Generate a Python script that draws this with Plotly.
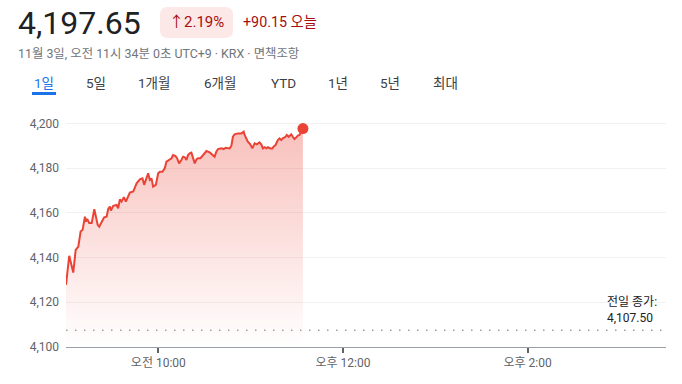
import plotly.graph_objects as go
import pandas as pd

# ---- data ----
minutes_after_open = [0, 2.1, 4.7, 6.3, 8.0, 9.5, 10.8, 12.3, 13.0, 13.8, 15.1, 16.7, 18.4, 19.5, 20.6,
                      21.6, 23.2, 24.8, 26.4, 27.4, 28.5, 29.2, 30.7, 32.9, 33.9, 35.0, 36.1, 37.6, 38.9,
                      40.4, 41.5, 43.7, 45.9, 48.0, 49.7, 50.8, 52.3, 53.4, 54.5, 55.6, 56.6, 58.4, 59.9,
                      61.0, 62.7, 64.2, 65.3, 67.0, 68.6, 69.6, 71.2, 72.2, 73.5, 75.0, 76.1, 77.2, 78.3,
                      79.3, 80.4, 81.5, 82.6, 83.7, 84.8, 85.8, 87.4, 89.1, 91.3, 93.4, 95.2, 96.6, 97.7,
                      98.8, 101.0, 102.5, 103.8, 105.3, 106.4, 107.5, 108.5, 109.6, 111.8, 114.0, 115.5,
                      116.1, 117.2, 118.2, 119.8, 121.1, 122.6, 124.1, 125.8, 126.9, 128.0, 129.1, 130.2,
                      131.2, 132.8, 134.1, 134.9, 136.2, 137.7, 138.8, 139.9, 140.9, 142.7, 143.5, 144.8,
                      146.4, 147.4, 148.5, 149.6, 150.7, 151.8, 154.0]
prices = [4127.8, 4140.8, 4133.3, 4143.4, 4144.9, 4151.6, 4152.4, 4158.3, 4156.1, 4157.3, 4155.4, 4155.4,
          4161.6, 4158.3, 4154.6, 4153.8, 4156.1, 4158.0, 4158.3, 4161.6, 4162.8, 4161.0, 4163.1, 4163.5,
          4162.0, 4166.0, 4165.0, 4167.0, 4165.0, 4167.2, 4169.0, 4169.5, 4173.2, 4175.0, 4175.4, 4172.5,
          4175.4, 4177.7, 4174.7, 4175.4, 4171.7, 4172.5, 4177.7, 4178.4, 4178.4, 4179.9, 4182.9, 4183.9,
          4184.4, 4185.8, 4185.4, 4184.4, 4182.1, 4183.6, 4185.1, 4184.8, 4183.6, 4185.8, 4186.6, 4186.9,
          4184.4, 4182.1, 4183.9, 4184.4, 4184.4, 4185.8, 4187.6, 4187.0, 4185.8, 4185.1, 4187.3, 4188.5,
          4188.8, 4188.5, 4189.1, 4188.8, 4188.8, 4190.0, 4194.0, 4195.1, 4195.5, 4195.5, 4196.3, 4194.8,
          4193.3, 4191.8, 4190.6, 4188.8, 4191.1, 4190.6, 4191.5, 4190.6, 4188.8, 4189.3, 4188.8, 4189.3,
          4188.8, 4188.8, 4189.6, 4190.3, 4192.5, 4193.3, 4192.5, 4193.3, 4194.0, 4194.8, 4194.0, 4195.1,
          4194.0, 4193.0, 4193.6, 4194.5, 4194.8, 4197.65]
prev_close = 4107.50
last_price = 4197.65
change_pct = "2.19%"
change_abs = "+90.15"
session_date = "2025-11-03"
x_tick_times = ["10:00", "12:00", "14:00"]
x_tick_labels = ["오전 10:00", "오후 12:00", "오후 2:00"]
y_ticks = [4100, 4120, 4140, 4160, 4180, 4200]
tabs = ["1일", "5일", "1개월", "6개월", "YTD", "1년", "5년", "최대"]

# ---- build ----
open_ts = pd.Timestamp(f"{session_date} 09:00")
times = open_ts + pd.to_timedelta(minutes_after_open, unit="min")

W, H = 682, 384
ML, MR, MT, MB = 66, 16, 105, 37
PW, PH = W - ML - MR, H - MT - MB


def px(x):
    return (x - ML) / PW


def py(y):
    return (H - MB - y) / PH


def rounded_rect_path(x0, y0, x1, y1, r):
    pts = [
        f"M {px(x0 + r)} {py(y0)}",
        f"L {px(x1 - r)} {py(y0)}",
        f"Q {px(x1)} {py(y0)} {px(x1)} {py(y0 + r)}",
        f"L {px(x1)} {py(y1 - r)}",
        f"Q {px(x1)} {py(y1)} {px(x1 - r)} {py(y1)}",
        f"L {px(x0 + r)} {py(y1)}",
        f"Q {px(x0)} {py(y1)} {px(x0)} {py(y1 - r)}",
        f"L {px(x0)} {py(y0 + r)}",
        f"Q {px(x0)} {py(y0)} {px(x0 + r)} {py(y0)}",
        "Z",
    ]
    return " ".join(pts)


RED = "#ea4335"
FONT = "Roboto, 'Noto Sans CJK KR', sans-serif"

fig = go.Figure()
fig.add_trace(go.Scatter(
    x=times, y=prices, mode="lines",
    line=dict(color=RED, width=2),
    fill="tozeroy",
    fillgradient=dict(type="vertical", start=4100, stop=4200,
                      colorscale=[[0, "rgba(234,67,53,0.0)"], [1, "rgba(234,67,53,0.34)"]]),
    hoverinfo="skip", showlegend=False,
))
fig.add_trace(go.Scatter(
    x=[times[-1]], y=[prices[-1]], mode="markers",
    marker=dict(color=RED, size=11), hoverinfo="skip", showlegend=False,
))

fig.add_shape(type="line", xref="paper", yref="y", x0=0, x1=1, y0=prev_close, y1=prev_close,
              line=dict(color="#9aa0a6", width=1.5, dash="1.5px,7.5px"), layer="above")

fig.update_layout(
    width=W, height=H,
    margin=dict(l=ML, r=MR, t=MT, b=MB),
    paper_bgcolor="white", plot_bgcolor="white",
    font=dict(family=FONT, color="#5f6368", size=12),
    xaxis=dict(
        range=[open_ts, pd.Timestamp(f"{session_date} 15:30")],
        tickvals=[pd.Timestamp(f"{session_date} {t}") for t in x_tick_times],
        ticktext=x_tick_labels,
        showgrid=False, zeroline=False,
        showline=True, linecolor="#9aa0a6", linewidth=1,
        ticks="outside", ticklen=5, tickwidth=2, tickcolor="#5f6368",
        tickfont=dict(size=12, color="#5f6368"),
        fixedrange=True,
    ),
    yaxis=dict(
        range=[4100, 4208.2],
        tickvals=y_ticks, tickformat=",d",
        showgrid=True, gridcolor="#f1f1f1", gridwidth=1,
        zeroline=False, showline=False, ticks="",
        ticklabelstandoff=6,
        tickfont=dict(size=12, color="#5f6368"),
        fixedrange=True,
    ),
)

ann = []
ann.append(dict(text=f"{last_price:,.2f}", x=px(16), y=py(23), xanchor="left", yanchor="middle",
                font=dict(size=32, color="#202124")))
fig.add_shape(type="path", xref="paper", yref="paper", path=rounded_rect_path(160, 7, 233, 38, 8),
              fillcolor="#fce8e6", line=dict(width=0), layer="above")
ann.append(dict(text=f"↑{change_pct}", x=px(196.5), y=py(22), xanchor="center", yanchor="middle",
                font=dict(size=15, color="#a50e0e")))
ann.append(dict(text=f"{change_abs} 오늘", x=px(241), y=py(22), xanchor="left", yanchor="middle",
                font=dict(size=14.3, color="#a50e0e")))
ann.append(dict(text="11월 3일, 오전 11시 34분 0초 UTC+9 · KRX · 면책조항", x=px(16), y=py(53),
                xanchor="left", yanchor="middle", font=dict(size=12.4, color="#70757a")))
tab_centers = [44, 96, 153.5, 219.5, 283, 337.5, 390, 445.5]
for i, (t, c) in enumerate(zip(tabs, tab_centers)):
    ann.append(dict(text=t, x=px(c), y=py(83), xanchor="center", yanchor="middle",
                    font=dict(size=13.5, color="#1a73e8" if i == 0 else "#3c4043")))
fig.add_shape(type="rect", xref="paper", yref="paper", x0=px(32), x1=px(56), y0=py(95), y1=py(92),
              fillcolor="#1a73e8", line=dict(width=0), layer="above")
ann.append(dict(text=f"전일 종가:<br>{prev_close:,.2f}", x=px(605), y=py(310), xanchor="left",
                yanchor="middle", align="left", font=dict(size=12, color="#202124")))

for a in ann:
    a.update(xref="paper", yref="paper", showarrow=False)
fig.update_layout(annotations=ann)

fig.write_html("out.html", config={"displayModeBar": False})
